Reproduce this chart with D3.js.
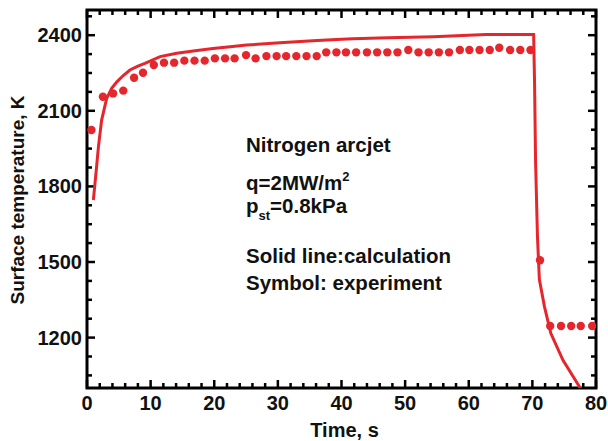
<!DOCTYPE html>
<html><head><meta charset="utf-8">
<script src="https://cdn.jsdelivr.net/npm/d3@7"></script>
<style>
html,body{margin:0;padding:0;background:#fff;}
text{font-family:"Liberation Sans",Arial,sans-serif;font-weight:bold;fill:#111;}
</style></head>
<body>
<svg id="chart" width="608" height="441"></svg>
<script>
// Experimental data (symbols)
const expTime = [0.7,2.5,4.1,5.7,7.4,8.8,10.5,12.1,13.7,15.3,16.9,18.5,20.1,21.7,23.2,25.0,26.5,28.2,29.8,31.3,32.9,34.5,36.1,37.6,39.2,40.7,42.3,44.0,45.6,47.2,48.8,50.5,52.1,53.7,55.3,56.9,58.6,60.1,61.7,63.3,64.8,66.5,68.1,69.7,71.2,72.8,74.5,76.1,77.6,79.4];
const expTemp = [2024,2156,2169,2180,2231,2251,2282,2291,2291,2299,2299,2299,2308,2308,2308,2321,2308,2317,2317,2317,2317,2317,2317,2332,2332,2332,2332,2332,2332,2332,2332,2341,2332,2332,2332,2332,2341,2341,2341,2341,2350,2341,2341,2341,1507,1246,1246,1246,1246,1246];
// Calculated data (solid line)
const calcTime = [1.0,1.4,1.8,2.3,3.1,3.9,4.7,5.7,6.75,8.0,9.1,11.5,14.1,17.0,19.8,22.5,25.1,30.3,35.5,39.2,41.8,47.3,54.4,62.7,70.2,70.35,70.5,70.8,71.1,71.9,72.9,74.8,77.4,78.5];
const calcTemp = [1746,1850,1958,2063,2150,2190,2215,2240,2262,2277,2288,2315,2328,2338,2347,2354,2361,2370,2378,2383,2386,2390,2394,2403,2403,2200,1900,1600,1430,1323,1217,1111,1005,960];
const xTicks = [0,10,20,30,40,50,60,70,80];
const yTicks = [1200,1500,1800,2100,2400];
const notes = ["Nitrogen arcjet","Solid line:calculation","Symbol: experiment"];

const red = "#e5262d";
const svg = d3.select("#chart");
const L = 87, R = 596, T = 10, B = 388;
const x = d3.scaleLinear().domain([0,80]).range([L,R]);
const y = d3.scaleLinear().domain([1000,2500]).range([B,T]);

svg.append("clipPath").attr("id","clip").append("rect")
  .attr("x",L).attr("y",T).attr("width",R-L).attr("height",B-T);

// minor ticks
const xMinor = d3.range(0,81,2).filter(v=>v%10!==0);
const yMinor = d3.range(1050,2500,75).filter(v=>(v%300)!==0);

const g = svg.append("g");
function ticks(vals, len, sw){
  vals.forEach(v=>{
    g.append("line").attr("x1",x(v)).attr("x2",x(v)).attr("y1",B).attr("y2",B-len).attr("stroke","#000").attr("stroke-width",sw);
    g.append("line").attr("x1",x(v)).attr("x2",x(v)).attr("y1",T).attr("y2",T+len).attr("stroke","#000").attr("stroke-width",sw);
  });
}
function yticks(vals, len, sw){
  vals.forEach(v=>{
    g.append("line").attr("y1",y(v)).attr("y2",y(v)).attr("x1",L).attr("x2",L+len).attr("stroke","#000").attr("stroke-width",sw);
    g.append("line").attr("y1",y(v)).attr("y2",y(v)).attr("x1",R).attr("x2",R-len).attr("stroke","#000").attr("stroke-width",sw);
  });
}
ticks(xTicks,8,2.5); ticks(xMinor,5,2.5);
yticks(yTicks,8,2.5); yticks(yMinor.filter(v=>v>1000),5,2.5);

// frame
svg.append("rect").attr("x",L).attr("y",T).attr("width",R-L).attr("height",B-T)
  .attr("fill","none").attr("stroke","#000").attr("stroke-width",3);

// tick labels
svg.selectAll(".xl").data(xTicks).enter().append("text")
  .attr("x",d=>x(d)).attr("y",410).attr("text-anchor","middle").attr("font-size",20).text(d=>d);
svg.selectAll(".yl").data(yTicks).enter().append("text")
  .attr("x",82).attr("y",d=>y(d)+7).attr("text-anchor","end").attr("font-size",20).text(d=>d);

// axis titles
svg.append("text").attr("x",(L+R)/2+3).attr("y",437).attr("text-anchor","middle").attr("font-size",20).text("Time, s");
svg.append("text").attr("transform","translate(24,200) rotate(-90)").attr("text-anchor","middle").attr("font-size",19).text("Surface temperature, K");

// data
const plot = svg.append("g").attr("clip-path","url(#clip)");
const line = d3.line().x((d,i)=>x(calcTime[i])).y((d,i)=>y(calcTemp[i]));
plot.append("path").attr("d",line(calcTime)).attr("fill","none").attr("stroke",red).attr("stroke-width",3);
plot.selectAll("circle").data(expTime).enter().append("circle")
  .attr("cx",d=>x(d)).attr("cy",(d,i)=>y(expTemp[i])).attr("r",4.2).attr("fill",red);

// annotations
const ax = 246;
const fs = 20.5;
svg.append("text").attr("x",ax).attr("y",152).attr("font-size",fs).text(notes[0]);
const q = svg.append("text").attr("x",ax).attr("y",190).attr("font-size",fs);
q.append("tspan").text("q=2MW/m");
q.append("tspan").attr("dy",-9).attr("font-size",13).text("2");
const p = svg.append("text").attr("x",ax).attr("y",213).attr("font-size",fs);
p.append("tspan").text("p");
p.append("tspan").attr("dy",7).attr("font-size",13).text("st");
p.append("tspan").attr("dy",-7).text("=0.8kPa");
svg.append("text").attr("x",ax).attr("y",263).attr("font-size",fs).text(notes[1]);
svg.append("text").attr("x",ax).attr("y",290).attr("font-size",fs).text(notes[2]);
</script>
</body></html>
